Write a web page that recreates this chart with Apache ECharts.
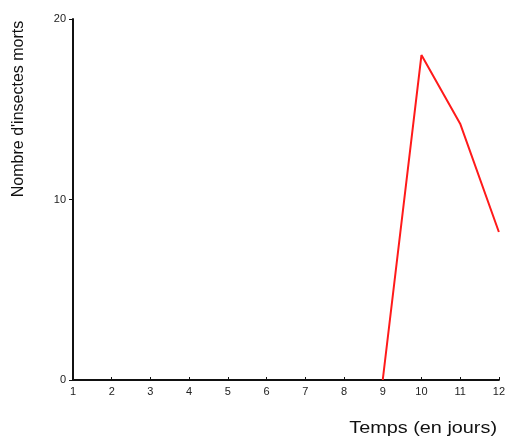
<!DOCTYPE html>
<html><head><meta charset="utf-8">
<script src="https://cdn.jsdelivr.net/npm/echarts@6/dist/echarts.min.js"></script>
<style>html,body{margin:0;padding:0;background:#fff}#c{width:508px;height:442px}</style>
</head><body><div id="c"></div>
<script>
const days = [1,2,3,4,5,6,7,8,9,10,11,12];
const deaths = [null,null,null,null,null,null,null,null,0,18,14.2,8.2];
const yTicks = [0,10,20];
const xTitle = 'Temps (en jours)';
const yTitle = "Nombre d'insectes morts";

const chart = echarts.init(document.getElementById('c'));
const font = 'Liberation Sans, Arial, sans-serif';
chart.setOption({
  animation: false,
  grid: {left: 73, right: 6, top: 19, bottom: 62},
  xAxis: {
    type: 'value', min: 1, max: 12, interval: 1,
    axisLine: {lineStyle: {color: '#111', width: 2}},
    axisTick: {show: true, length: 3, inside: true, lineStyle: {color: '#111'}},
    axisLabel: {color: '#222', fontSize: 11, fontFamily: font, margin: 6},
    splitLine: {show: false}
  },
  yAxis: {
    type: 'value', min: 0, max: 20, interval: 10,
    axisLine: {show: true, lineStyle: {color: '#111', width: 2}},
    axisTick: {show: true, length: 4, lineStyle: {color: '#111'}},
    axisLabel: {color: '#222', fontSize: 11, fontFamily: font, margin: 7},
    splitLine: {show: false}
  },
  graphic: [
    {type: 'text', x: 19, y: 109, rotation: Math.PI/2,
     style: {text: yTitle, fill: '#111', font: '16px ' + font, textAlign: 'center', textVerticalAlign: 'middle'}},
    {type: 'text', x: 497, y: 429, scaleX: 1.24,
     style: {text: xTitle, fill: '#111', font: '16px ' + font, textAlign: 'right', textVerticalAlign: 'middle'}}
  ],
  series: [{
    type: 'line',
    data: days.map((d,i)=>[d, deaths[i]]),
    showSymbol: false,
    connectNulls: false,
    lineStyle: {color: '#ff1a1a', width: 2},
    itemStyle: {color: '#ff1a1a'}
  }]
});
</script></body></html>
